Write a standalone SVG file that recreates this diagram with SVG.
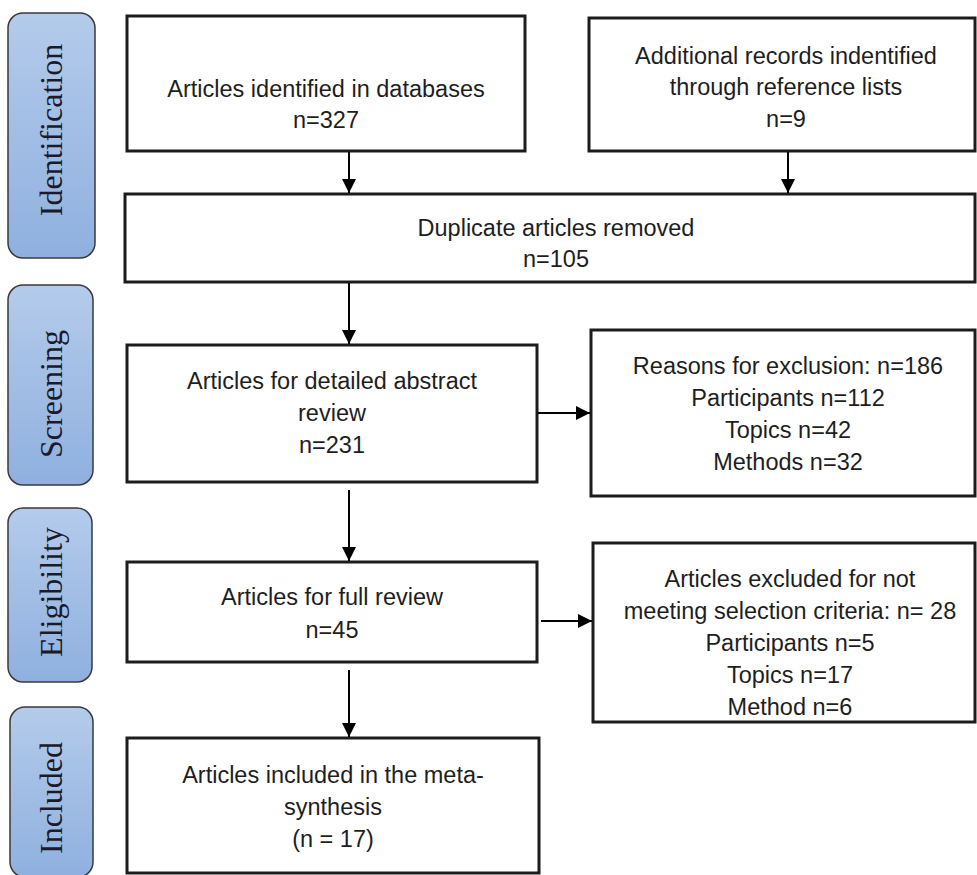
<svg xmlns="http://www.w3.org/2000/svg" width="977" height="875" viewBox="0 0 977 875">
  <style>
    .stage rect { fill: url(#stageGrad); stroke: #3a3a3a; stroke-width: 1.5; }
    .stage text { font-family: "Liberation Serif", "Times New Roman", serif; font-size: 32px; fill: #1a1a2a; text-anchor: middle; }
    .box rect { fill: #ffffff; stroke: #1c1c1c; stroke-width: 3; }
    .box text { font-family: "Liberation Sans", Arial, sans-serif; font-size: 23.5px; fill: #1e1e1e; text-anchor: middle; }
    .conn line { stroke: #000; stroke-width: 2; marker-end: url(#arrow); }
  </style>
  <defs>
    <linearGradient id="stageGrad" x1="0" y1="0" x2="0" y2="1">
      <stop offset="0" stop-color="#b4cbeb"/>
      <stop offset="1" stop-color="#8fb0df"/>
    </linearGradient>
    <marker id="arrow" viewBox="0 0 14 14" refX="14" refY="7" markerWidth="14" markerHeight="14" markerUnits="userSpaceOnUse" orient="auto">
      <path d="M0,0 L14,7 L0,14 z" fill="#000"/>
    </marker>
  </defs>
  <rect width="977" height="875" fill="#ffffff"/>

  <g id="stage-identification" class="stage">
    <rect x="8" y="13" width="87" height="245" rx="15"/>
    <text x="62" y="130" transform="rotate(-90 62 130)">Identification</text>
  </g>
  <g id="stage-screening" class="stage">
    <rect x="8" y="285" width="85" height="200" rx="15"/>
    <text x="62" y="394" transform="rotate(-90 62 394)">Screening</text>
  </g>
  <g id="stage-eligibility" class="stage">
    <rect x="8" y="508" width="84" height="174" rx="15"/>
    <text x="62" y="592" transform="rotate(-90 62 592)">Eligibility</text>
  </g>
  <g id="stage-included" class="stage">
    <rect x="10" y="707" width="83" height="170" rx="15"/>
    <text x="62" y="798" transform="rotate(-90 62 798)">Included</text>
  </g>

  <g id="box-databases" class="box">
    <rect x="127" y="16" width="398" height="135"/>
    <text x="326" y="97">Articles identified in databases</text>
    <text x="326" y="128">n=327</text>
  </g>
  <g id="box-additional" class="box">
    <rect x="589" y="18" width="386" height="133"/>
    <text x="786" y="64">Additional records indentified</text>
    <text x="786" y="95">through reference lists</text>
    <text x="786" y="127">n=9</text>
  </g>
  <g id="box-duplicates" class="box">
    <rect x="125" y="194" width="850" height="88"/>
    <text x="556" y="236">Duplicate articles removed</text>
    <text x="556" y="267">n=105</text>
  </g>
  <g id="box-abstract" class="box">
    <rect x="127" y="345" width="410" height="137"/>
    <text x="332" y="389">Articles for detailed abstract</text>
    <text x="332" y="421">review</text>
    <text x="332" y="453">n=231</text>
  </g>
  <g id="box-exclusion" class="box">
    <rect x="591" y="330" width="384" height="166"/>
    <text x="788" y="374">Reasons for exclusion: n=186</text>
    <text x="788" y="406">Participants n=112</text>
    <text x="788" y="438">Topics n=42</text>
    <text x="788" y="470">Methods n=32</text>
  </g>
  <g id="box-fullreview" class="box">
    <rect x="127" y="562" width="410" height="100"/>
    <text x="332" y="605">Articles for full review</text>
    <text x="332" y="638">n=45</text>
  </g>
  <g id="box-excluded" class="box">
    <rect x="593" y="543" width="382" height="179"/>
    <text x="790" y="587">Articles excluded for not</text>
    <text x="790" y="619">meeting selection criteria: n= 28</text>
    <text x="790" y="651">Participants n=5</text>
    <text x="790" y="683">Topics n=17</text>
    <text x="790" y="715">Method n=6</text>
  </g>
  <g id="box-included" class="box">
    <rect x="127" y="738" width="412" height="135"/>
    <text x="333" y="783">Articles included in the meta-</text>
    <text x="333" y="815">synthesis</text>
    <text x="333" y="847">(n = 17)</text>
  </g>

  <g id="connectors" class="conn">
    <line x1="349" y1="152" x2="349" y2="193"/>
    <line x1="788" y1="152" x2="788" y2="193"/>
    <line x1="349" y1="283" x2="349" y2="344"/>
    <line x1="538" y1="413" x2="590" y2="413"/>
    <line x1="349" y1="490" x2="349" y2="561"/>
    <line x1="541" y1="621" x2="592" y2="621"/>
    <line x1="349" y1="670" x2="349" y2="737"/>
  </g>
</svg>
